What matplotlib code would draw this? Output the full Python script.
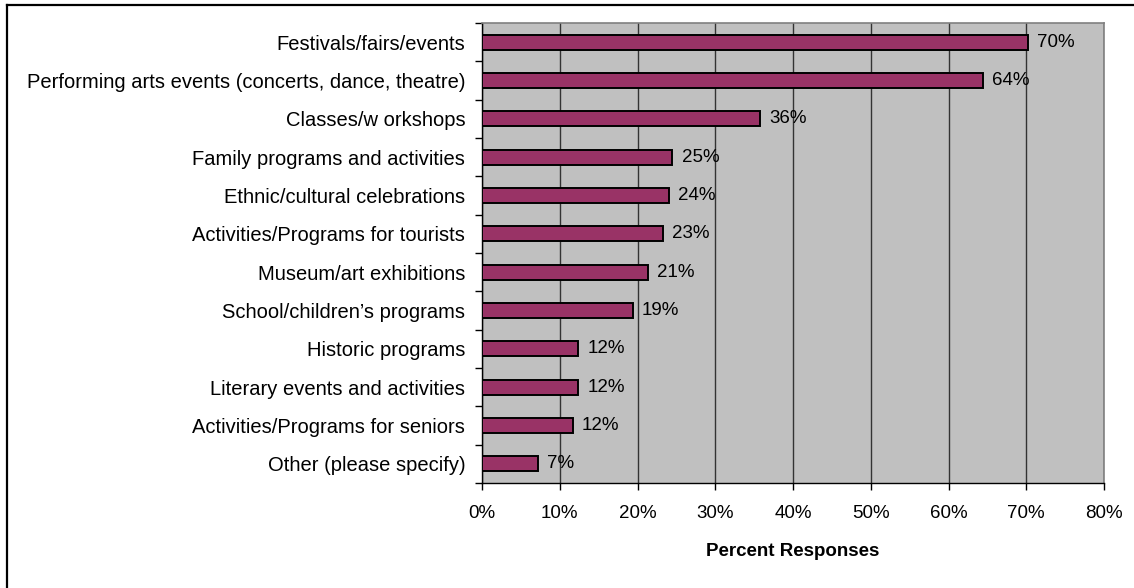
import matplotlib
matplotlib.use("Agg")
import matplotlib.pyplot as plt
from matplotlib.lines import Line2D
import numpy as np

categories = [
    "Festivals/fairs/events",
    "Performing arts events (concerts, dance, theatre)",
    "Classes/w orkshops",
    "Family programs and activities",
    "Ethnic/cultural celebrations",
    "Activities/Programs for tourists",
    "Museum/art exhibitions",
    "School/children\u2019s programs",
    "Historic programs",
    "Literary events and activities",
    "Activities/Programs for seniors",
    "Other (please specify)",
]
values = [70.2, 64.4, 35.8, 24.5, 24.1, 23.3, 21.4, 19.4, 12.4, 12.4, 11.7, 7.2]
value_labels = ["70%", "64%", "36%", "25%", "24%", "23%", "21%", "19%", "12%", "12%", "12%", "7%"]
x_ticks = [0, 10, 20, 30, 40, 50, 60, 70, 80]
x_tick_labels = ["0%", "10%", "20%", "30%", "40%", "50%", "60%", "70%", "80%"]

plt.rcParams['font.family'] = ['Liberation Sans', 'DejaVu Sans']

W, H = 1134, 588
fig = plt.figure(figsize=(W / 100, H / 100), dpi=100)
ax = fig.add_axes([482 / W, 1 - 483 / H, (1104 - 482) / W, (483 - 23) / H])

n = len(categories)
y = np.arange(n)
ax.set_facecolor("#C0C0C0")
ax.barh(y, values, height=0.39, color="#993366", edgecolor="black", linewidth=1.4, zorder=3)
ax.set_xlim(0, 80)
ax.set_ylim(n - 0.5, -0.5)

ax.set_xticks(x_ticks)
ax.set_xticklabels(x_tick_labels, fontsize=13.5)
ax.set_yticks(y)
ax.set_yticklabels(categories, fontsize=14.5)
ax.set_yticks(np.arange(n + 1) - 0.5, minor=True)
ax.tick_params(axis="y", which="major", length=0, pad=12)
ax.tick_params(axis="y", which="minor", length=5, width=1, color="black", direction="out")
ax.tick_params(axis="x", which="major", length=5, width=1, color="black", direction="out", pad=11)

ax.grid(axis="x", color="#333333", linewidth=1.0, zorder=1)
ax.set_axisbelow(True)

for s in ["top", "right"]:
    ax.spines[s].set_color("#808080")
    ax.spines[s].set_linewidth(1.2)
for s in ["left", "bottom"]:
    ax.spines[s].set_color("black")
    ax.spines[s].set_linewidth(1.0)

for yi, v, lab in zip(y, values, value_labels):
    ax.annotate(lab, xy=(v, yi), xytext=(6.5, 0), textcoords="offset points",
                va="center", ha="left", fontsize=13.5, color="black", zorder=4)

ax.set_xlabel("Percent Responses", fontsize=13.5, fontweight="bold", labelpad=15)

# figure border (top and left visible)
fig.add_artist(Line2D([7 / W, 7 / W], [0, 1 - 5 / H], transform=fig.transFigure,
                      color="black", linewidth=1.6))
fig.add_artist(Line2D([7 / W, 1], [1 - 5 / H, 1 - 5 / H], transform=fig.transFigure,
                      color="black", linewidth=1.6))

fig.savefig("out.png", dpi=100)
